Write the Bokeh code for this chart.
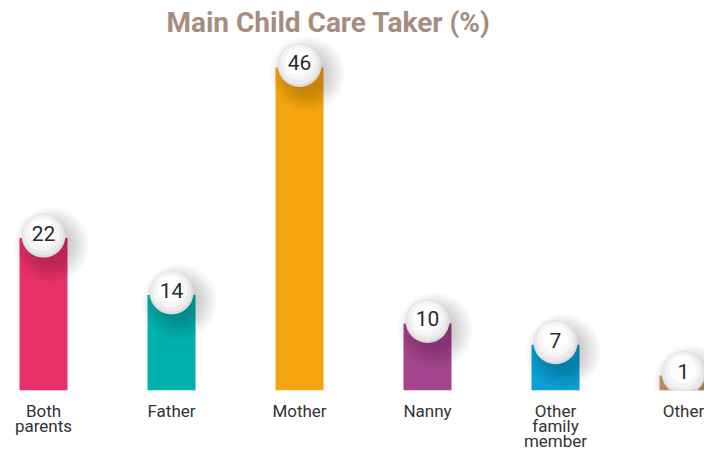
import numpy as np
from bokeh.plotting import figure
from bokeh.models import Range1d, FixedTicker, Label, ColumnDataSource
from bokeh.core.properties import value
from bokeh.embed import file_html
from bokeh.resources import INLINE

categories = ["Both\nparents", "Father", "Mother", "Nanny", "Other\nfamily\nmember", "Other"]
values = [22, 14, 46, 10, 7, 1]
colors = ["#E8306A", "#00B1AE", "#F5A60F", "#A4448F", "#0CA0D5", "#C99C60"]

# layout constants (pixels)
FRAME_W, FRAME_H = 704, 390
SPACING = 128.0      # px between bar centres
FIRST = 43.0         # px of first bar centre from left
PX_PER_UNIT = 7.11   # px per percentage point
ZERO_BELOW = 4.0     # zero line lies this many px below the frame bottom
MIN_BAR_PX = 19.0

def dx(px):
    return px / SPACING

def dy(px):
    return px / PX_PER_UNIT

x0 = -FIRST / SPACING
x1 = x0 + FRAME_W / SPACING
y0 = dy(ZERO_BELOW)
y1 = y0 + dy(FRAME_H)

idx = np.arange(len(values))
vals = np.array(values, dtype=float)
tops = np.maximum(vals, dy(MIN_BAR_PX))

p = figure(frame_width=FRAME_W, frame_height=FRAME_H, output_backend="svg",
           toolbar_location=None, x_range=Range1d(x0, x1), y_range=Range1d(y0, y1),
           y_axis_location=None, min_border=0, outline_line_color=None,
           background_fill_color="white", border_fill_color="white")
p.xgrid.visible = False
p.ygrid.visible = False

src = ColumnDataSource(dict(x=idx, top=tops, color=colors))
p.vbar(x="x", top="top", bottom=0, width=dx(48), fill_color="color", line_color=None, source=src)

cy = tops + dy(2.5)
# soft shadow towards lower right
for k in range(8):
    p.scatter(idx + dx(8), cy - dy(9), size=40 + 5 * k, marker="circle",
              fill_color="black", fill_alpha=0.022, line_color=None)
# ball
p.scatter(idx, cy, size=44, marker="circle", fill_color="#dcdcdc", line_color=None)
p.scatter(idx - dx(0.6), cy + dy(1.2), size=41, marker="circle", fill_color="#ebebeb", line_color=None)
p.scatter(idx - dx(1.0), cy + dy(2.5), size=35, marker="circle", fill_color="#f5f5f5", line_color=None)
p.scatter(idx - dx(1.0), cy + dy(3.5), size=27, marker="circle", fill_color="#fdfdfd", line_color=None)

p.text(x=idx, y=cy + dy(2), text=[str(v) for v in values], text_align="center",
       text_baseline="middle", text_font=value("Roboto"), text_font_size="21px",
       text_color="#2a2a2a")

ax = p.xaxis[0]
ax.ticker = FixedTicker(ticks=list(idx))
ax.major_label_overrides = {int(i): c for i, c in zip(idx, categories)}
ax.axis_line_color = None
ax.major_tick_line_color = None
ax.minor_tick_line_color = None
ax.major_label_standoff = 4
ax.major_label_text_font = "Roboto"
ax.major_label_text_font_size = "17px"
ax.major_label_text_color = "#333333"
ax.major_label_text_line_height = 0.76

title = Label(x=dx(328 - FIRST), y=y0 + dy(FRAME_H - 22), text="Main Child Care Taker (%)",
              text_align="center", text_baseline="middle", text_font="Roboto",
              text_font_style="bold", text_font_size="28px", text_color="#A68D7E")
p.add_layout(title)

open("out.html", "w").write(file_html(p, INLINE))
